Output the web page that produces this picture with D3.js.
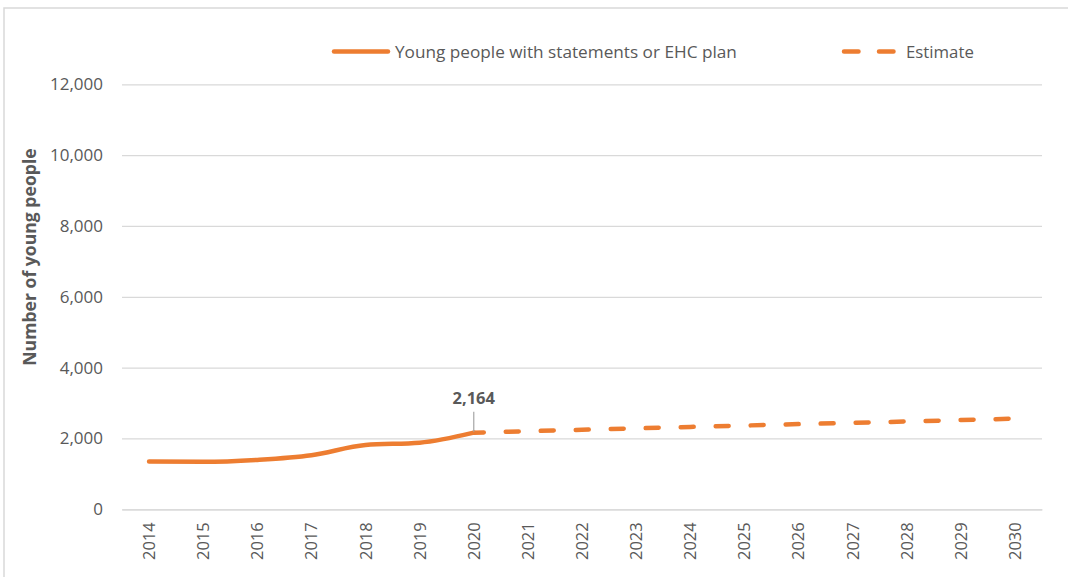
<!DOCTYPE html>
<html>
<head>
<meta charset="utf-8">
<script src="https://cdn.jsdelivr.net/npm/d3@7/dist/d3.min.js"></script>
<style>
  html, body { margin: 0; padding: 0; background: #ffffff; }
  svg { display: block; }
  text { font-family: "Open Sans", "Noto Sans", sans-serif; fill: #595959; }
</style>
</head>
<body>
<svg id="chart" width="1068" height="577"></svg>
<script>
// Number of young people with statements or EHC plans, actuals and estimate
const years = ["2014","2015","2016","2017","2018","2019","2020","2021","2022","2023","2024","2025","2026","2027","2028","2029","2030"];
const actualYears = ["2014","2015","2016","2017","2018","2019","2020"];
const actualValues = [1350, 1340, 1395, 1525, 1815, 1880, 2164];
const estimateYears = ["2020","2021","2022","2023","2024","2025","2026","2027","2028","2029","2030"];
const estimateValues = [2164, 2205, 2245, 2285, 2325, 2365, 2405, 2440, 2480, 2520, 2560];
const yTicks = [0, 2000, 4000, 6000, 8000, 10000, 12000];
const seriesNames = ["Young people with statements or EHC plan", "Estimate"];
const yTitle = "Number of young people";
const labelledYear = "2020";

const orange = "#ED7D31";
const grid = "#D9D9D9";

const svg = d3.select("#chart");
const margin = { left: 122, right: 26, top: 84, bottom: 68 };
const W = 1068, H = 577;

// chart frame
svg.append("rect")
  .attr("x", 4).attr("y", 8)
  .attr("width", W + 10).attr("height", H + 10)
  .attr("fill", "none").attr("stroke", grid).attr("stroke-width", 1.5);

const x = d3.scaleBand().domain(years)
  .range([margin.left, W - margin.right]);
const y = d3.scaleLinear().domain([0, 12000])
  .range([H - margin.bottom + 0.3, margin.top + 0.3]);
const cx = d => x(d) + x.bandwidth() / 2;

// gridlines + y tick labels
const yAxis = d3.axisLeft(y).tickValues(yTicks)
  .tickSize(-(W - margin.left - margin.right))
  .tickPadding(19)
  .tickFormat(d3.format(","));
const gy = svg.append("g").attr("transform", `translate(${margin.left},0)`).call(yAxis);
gy.select(".domain").remove();
gy.selectAll(".tick line").attr("stroke", grid).attr("stroke-width", 1.3);
gy.selectAll(".tick text").attr("font-size", 17).attr("fill", "#595959")
  .attr("font-family", "Open Sans");

// x axis
const xAxis = d3.axisBottom(x).tickSize(0).tickPadding(0);
const gx = svg.append("g").attr("transform", `translate(0,${y(0)})`).call(xAxis);
gx.select(".domain").attr("stroke", grid).attr("stroke-width", 1.3);
gx.selectAll(".tick text")
  .attr("font-size", 16.5).attr("fill", "#595959").attr("font-family", "Open Sans")
  .attr("text-anchor", "end")
  .attr("dy", null)
  .attr("transform", "translate(6,13) rotate(-90)");

// y axis title
svg.append("text")
  .attr("transform", `translate(36,257) rotate(-90)`)
  .attr("text-anchor", "middle")
  .attr("font-size", 17.6).attr("font-weight", "bold")
  .text(yTitle);

const line = d3.line().x(d => cx(d[0])).y(d => y(d[1]));

// estimate (dashed)
svg.append("path")
  .datum(d3.zip(estimateYears, estimateValues))
  .attr("d", line)
  .attr("fill", "none").attr("stroke", orange).attr("stroke-width", 4.5)
  .attr("stroke-linecap", "round")
  .attr("stroke-dasharray", "13,22").attr("stroke-dashoffset", 3);

// actuals (solid)
svg.append("path")
  .datum(d3.zip(actualYears, actualValues))
  .attr("d", line.curve(d3.curveMonotoneX))
  .attr("fill", "none").attr("stroke", orange).attr("stroke-width", 4.5)
  .attr("stroke-linecap", "round").attr("stroke-linejoin", "round");

// data label with leader line
const lv = actualValues[actualYears.indexOf(labelledYear)];
svg.append("line")
  .attr("x1", cx(labelledYear)).attr("x2", cx(labelledYear))
  .attr("y1", y(lv) - 21).attr("y2", y(lv) - 1)
  .attr("stroke", "#A6A6A6").attr("stroke-width", 1.2);
svg.append("text")
  .attr("x", cx(labelledYear)).attr("y", y(lv) - 29)
  .attr("text-anchor", "middle")
  .attr("font-size", 16.5).attr("font-weight", "bold").attr("fill", "#404040")
  .text(d3.format(",")(lv));

// legend
const leg = svg.append("g");
leg.append("line").attr("x1", 334).attr("x2", 388).attr("y1", 51.5).attr("y2", 51.5)
  .attr("stroke", orange).attr("stroke-width", 4.5).attr("stroke-linecap", "round");
leg.append("text").attr("x", 395).attr("y", 57.5).attr("font-size", 17.2).text(seriesNames[0]);
leg.append("line").attr("x1", 844).attr("x2", 894).attr("y1", 51.5).attr("y2", 51.5)
  .attr("stroke", orange).attr("stroke-width", 4.5).attr("stroke-linecap", "round")
  .attr("stroke-dasharray", "14.5,20.5");
leg.append("text").attr("x", 906).attr("y", 57.5).attr("font-size", 16.8).text(seriesNames[1]);
</script>
</body>
</html>
